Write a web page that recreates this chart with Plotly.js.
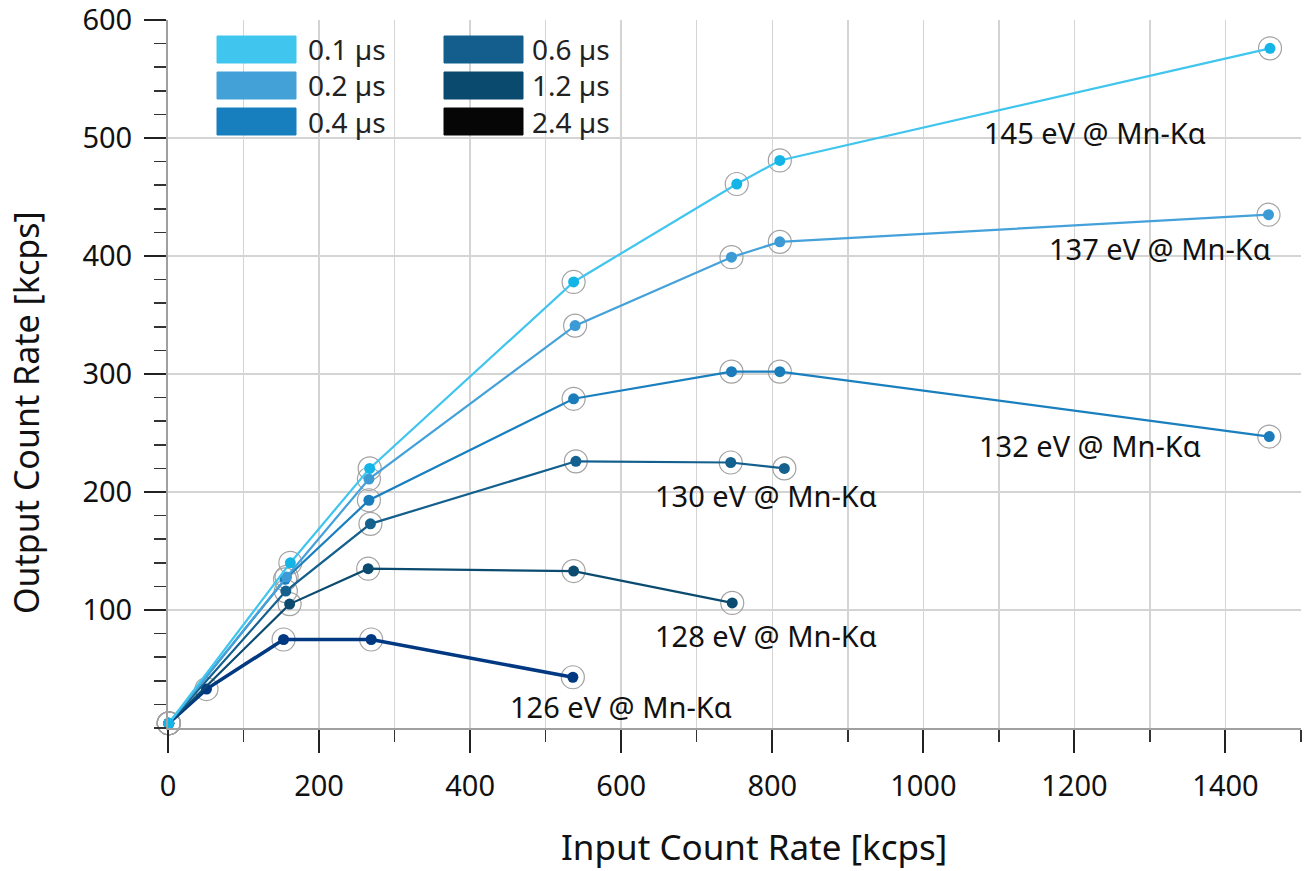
<!DOCTYPE html>
<html>
<head>
<meta charset="utf-8">
<script src="https://cdn.plot.ly/plotly-3.0.1.min.js"></script>
<style>
  html, body { margin: 0; padding: 0; background: #ffffff; }
  #chart { width: 1305px; height: 871px; }
</style>
</head>
<body>
<div id="chart"></div>
<script>
// ---- Data ----
const seriesNames = ['0.1 µs', '0.2 µs', '0.4 µs', '0.6 µs', '1.2 µs', '2.4 µs'];

const icr01 = [1, 162, 267, 537, 753, 810, 1459];
const ocr01 = [4, 140, 220, 378, 461, 481, 576];

const icr02 = [1, 157, 266, 539, 746, 810, 1457];
const ocr02 = [4, 128, 211, 341, 399, 412, 435];

const icr04 = [1, 155, 266, 537, 746, 810, 1458];
const ocr04 = [4, 126, 193, 279, 302, 302, 247];

const icr06 = [1, 156, 268, 540, 745, 816];
const ocr06 = [4, 116, 173, 226, 225, 220];

const icr12 = [1, 161, 265, 537, 747];
const ocr12 = [4, 105, 135, 133, 106];

const icr24 = [1, 51, 153, 269, 536];
const ocr24 = [4, 33, 75, 75, 43];

const resolutionLabels = ['145 eV @ Mn-Kα', '137 eV @ Mn-Kα', '132 eV @ Mn-Kα',
                          '130 eV @ Mn-Kα', '128 eV @ Mn-Kα', '126 eV @ Mn-Kα'];

const xTickValues = [0, 200, 400, 600, 800, 1000, 1200, 1400];
const yTickValues = [100, 200, 300, 400, 500, 600];

// ---- Styles ----
const lineColors   = ['#3fc5ee', '#44a1d9', '#1a7fbe', '#135f8d', '#0b4b6f', '#003882'];
const dotColors    = ['#14b5e6', '#3c9ad4', '#1a7cba', '#14608e', '#0b4b6f', '#003882'];
const lineWidths   = [2.2, 2.2, 2.2, 2.2, 2.2, 3.6];
const swatchColors = ['#40c6ee', '#43a1d8', '#177fbd', '#135e8c', '#0a4a6e', '#060606'];

const xs = [icr01, icr02, icr04, icr06, icr12, icr24];
const ys = [ocr01, ocr02, ocr04, ocr06, ocr12, ocr24];

const FONT = 'Noto Sans, Open Sans, sans-serif';

const traces = [];
// gray rings first (drawn underneath)
for (let i = xs.length - 1; i >= 0; i--) {
  traces.push({
    type: 'scatter', mode: 'markers', x: xs[i], y: ys[i],
    showlegend: false, hoverinfo: 'skip', cliponaxis: false,
    marker: { symbol: 'circle-open', size: 23, color: '#a3a3a3', line: { width: 1.2, color: '#a3a3a3' } }
  });
}
for (let i = xs.length - 1; i >= 0; i--) {
  traces.push({
    type: 'scatter', mode: 'lines+markers', name: seriesNames[i],
    x: xs[i], y: ys[i], showlegend: false, cliponaxis: false,
    line: { color: lineColors[i], width: lineWidths[i] },
    marker: { size: 11, color: dotColors[i] }
  });
}

// ---- Plot geometry (pixels) ----
const W = 1305, H = 871;
const M = { l: 168, r: 4, t: 20, b: 143 };
const PW = W - M.l - M.r, PH = H - M.t - M.b;
const px2x = px => (px - M.l) / PW;
const py2y = py => (H - M.b - py) / PH;

// ---- Legend (two columns of swatches + labels) ----
const shapes = [];
const annotations = [];
const colSwatchX = [217, 444];
const colTextX = [306, 530];
const rowTop = 36, rowPitch = 36, swW = 79, swH = 27;
seriesNames.forEach((name, i) => {
  const col = Math.floor(i / 3), row = i % 3;
  const top = rowTop + row * rowPitch;
  shapes.push({
    type: 'rect', xref: 'paper', yref: 'paper',
    x0: px2x(colSwatchX[col]), x1: px2x(colSwatchX[col] + swW),
    y0: py2y(top + swH), y1: py2y(top),
    fillcolor: swatchColors[i], line: { width: 1, color: swatchColors[i] }, layer: 'above'
  });
});
[0, 1].forEach(col => {
  annotations.push({
    xref: 'paper', yref: 'paper', x: px2x(colTextX[col]),
    y: py2y(rowTop + rowPitch + swH / 2),
    xanchor: 'left', yanchor: 'middle', align: 'left', showarrow: false,
    text: seriesNames.slice(col * 3, col * 3 + 3).join('<br>'),
    font: { family: FONT, size: 28, color: '#222222' }
  });
});

// ---- Resolution labels (data coordinates) ----
const labelPos = [[1227, 505], [1313, 406], [1221, 239], [792, 197], [792, 78], [600, 18]];
resolutionLabels.forEach((t, i) => {
  annotations.push({
    xref: 'x', yref: 'y', x: labelPos[i][0], y: labelPos[i][1],
    xanchor: 'center', yanchor: 'middle', showarrow: false, text: t,
    font: { family: FONT, size: 29, color: '#111111' }
  });
});

// ---- Axis titles ----
annotations.push({
  xref: 'paper', yref: 'paper', x: px2x(754), y: py2y(846),
  xanchor: 'center', yanchor: 'middle', showarrow: false,
  text: 'Input Count Rate [kcps]', font: { family: FONT, size: 35, color: '#111111' }
});
annotations.push({
  xref: 'paper', yref: 'paper', x: px2x(26), y: py2y(413),
  xanchor: 'center', yanchor: 'middle', showarrow: false, textangle: -90,
  text: 'Output Count Rate [kcps]', font: { family: FONT, size: 34, color: '#111111' }
});

const layout = {
  width: W, height: H,
  margin: M,
  paper_bgcolor: '#ffffff', plot_bgcolor: '#ffffff',
  showlegend: false,
  font: { family: FONT, color: '#111111' },
  xaxis: {
    range: [0, 1500], tickmode: 'array', tickvals: xTickValues,
    ticks: 'outside', ticklen: 23, tickwidth: 2, tickcolor: '#222222',
    ticklabelstandoff: 8, ticklabeloverflow: 'allow',
    tickfont: { family: FONT, size: 29, color: '#111111' },
    showgrid: true, gridcolor: '#d4d4d4', gridwidth: 1.5,
    zeroline: false, showline: true, linecolor: '#a0a0a0', linewidth: 2,
    minor: { dtick: 100, ticks: 'outside', ticklen: 12, tickwidth: 1.5, tickcolor: '#333333',
             showgrid: true, gridcolor: '#d4d4d4', gridwidth: 1.5 }
  },
  yaxis: {
    range: [0, 600], tickmode: 'array', tickvals: yTickValues,
    ticks: 'outside', ticklen: 22, tickwidth: 2, tickcolor: '#222222',
    ticklabelstandoff: 6, ticklabeloverflow: 'allow',
    tickfont: { family: FONT, size: 29, color: '#111111' },
    showgrid: true, gridcolor: '#d4d4d4', gridwidth: 1.5,
    zeroline: false, showline: true, linecolor: '#a0a0a0', linewidth: 2,
    minor: { dtick: 20, ticks: 'outside', ticklen: 12, tickwidth: 1.5, tickcolor: '#333333', showgrid: false }
  },
  shapes: shapes,
  annotations: annotations
};

Plotly.newPlot('chart', traces, layout, { displayModeBar: false, staticPlot: true });
</script>
</body>
</html>
